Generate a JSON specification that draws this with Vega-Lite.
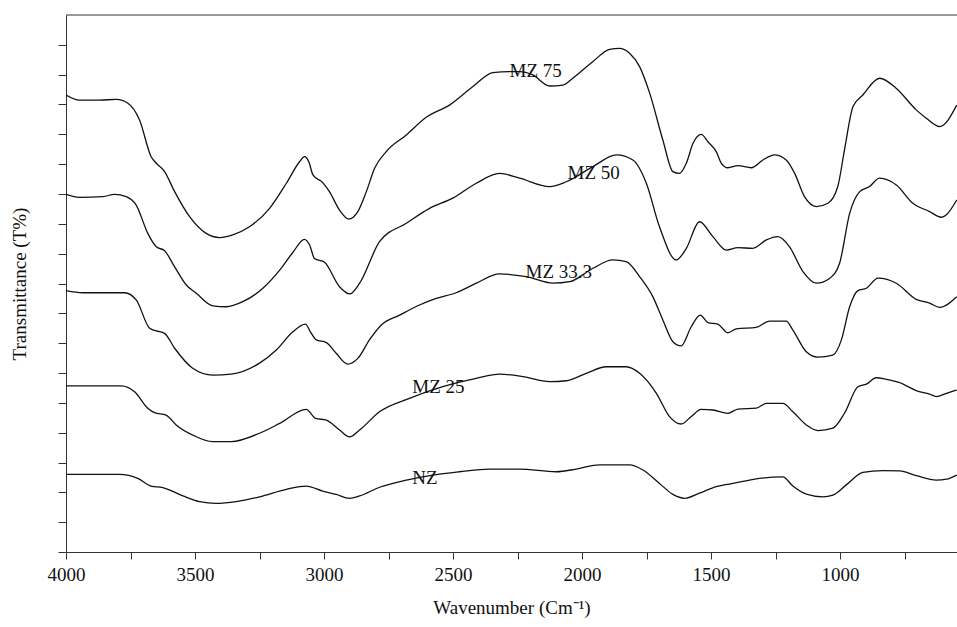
{
  "$schema": "https://vega.github.io/schema/vega-lite/v6.json",
  "width": 891,
  "height": 537,
  "autosize": {"type": "none"},
  "padding": {"left": 66, "top": 15, "right": 0, "bottom": 75},
  "background": "white",
  "config": {
    "view": {"stroke": null},
    "font": "Liberation Serif",
    "axis": {"grid": false, "domainColor": "#333333", "tickColor": "#333333", "labelColor": "#111111", "titleColor": "#111111", "labelFont": "Liberation Serif", "titleFont": "Liberation Serif", "titleFontWeight": "normal", "labelFontSize": 19, "titleFontSize": 19}
  },
  "datasets": {
    "spectra": [
      {"s":"MZ 75","w":4000,"t":15.32},{"s":"MZ 75","w":3948,"t":15.15},{"s":"MZ 75","w":3870,"t":15.15},{"s":"MZ 75","w":3805,"t":15.17},{"s":"MZ 75","w":3760,"t":15.04},{"s":"MZ 75","w":3715,"t":14.48},{"s":"MZ 75","w":3670,"t":13.25},{"s":"MZ 75","w":3650,"t":13.03},{"s":"MZ 75","w":3618,"t":12.75},{"s":"MZ 75","w":3579,"t":12.08},{"s":"MZ 75","w":3521,"t":11.24},{"s":"MZ 75","w":3457,"t":10.68},{"s":"MZ 75","w":3405,"t":10.54},{"s":"MZ 75","w":3354,"t":10.63},{"s":"MZ 75","w":3289,"t":10.90},{"s":"MZ 75","w":3211,"t":11.52},{"s":"MZ 75","w":3146,"t":12.36},{"s":"MZ 75","w":3095,"t":13.08},{"s":"MZ 75","w":3076,"t":13.25},{"s":"MZ 75","w":3059,"t":13.08},{"s":"MZ 75","w":3043,"t":12.64},{"s":"MZ 75","w":3005,"t":12.38},{"s":"MZ 75","w":2979,"t":12.08},{"s":"MZ 75","w":2940,"t":11.46},{"s":"MZ 75","w":2904,"t":11.16},{"s":"MZ 75","w":2869,"t":11.41},{"s":"MZ 75","w":2836,"t":12.08},{"s":"MZ 75","w":2804,"t":12.86},{"s":"MZ 75","w":2759,"t":13.42},{"s":"MZ 75","w":2681,"t":13.98},{"s":"MZ 75","w":2604,"t":14.57},{"s":"MZ 75","w":2514,"t":14.98},{"s":"MZ 75","w":2423,"t":15.60},{"s":"MZ 75","w":2346,"t":16.07},{"s":"MZ 75","w":2281,"t":16.10},{"s":"MZ 75","w":2242,"t":16.10},{"s":"MZ 75","w":2191,"t":15.99},{"s":"MZ 75","w":2126,"t":15.62},{"s":"MZ 75","w":2074,"t":15.65},{"s":"MZ 75","w":2036,"t":15.88},{"s":"MZ 75","w":1958,"t":16.44},{"s":"MZ 75","w":1893,"t":16.85},{"s":"MZ 75","w":1855,"t":16.88},{"s":"MZ 75","w":1816,"t":16.72},{"s":"MZ 75","w":1777,"t":16.27},{"s":"MZ 75","w":1738,"t":15.38},{"s":"MZ 75","w":1687,"t":13.81},{"s":"MZ 75","w":1648,"t":12.75},{"s":"MZ 75","w":1622,"t":12.69},{"s":"MZ 75","w":1596,"t":13.03},{"s":"MZ 75","w":1570,"t":13.70},{"s":"MZ 75","w":1538,"t":14.00},{"s":"MZ 75","w":1512,"t":13.75},{"s":"MZ 75","w":1480,"t":13.42},{"s":"MZ 75","w":1460,"t":13.03},{"s":"MZ 75","w":1435,"t":12.88},{"s":"MZ 75","w":1396,"t":12.95},{"s":"MZ 75","w":1344,"t":12.88},{"s":"MZ 75","w":1299,"t":13.14},{"s":"MZ 75","w":1254,"t":13.31},{"s":"MZ 75","w":1209,"t":13.14},{"s":"MZ 75","w":1176,"t":12.69},{"s":"MZ 75","w":1138,"t":11.91},{"s":"MZ 75","w":1092,"t":11.58},{"s":"MZ 75","w":1047,"t":11.69},{"s":"MZ 75","w":1009,"t":12.25},{"s":"MZ 75","w":983,"t":13.48},{"s":"MZ 75","w":950,"t":14.93},{"s":"MZ 75","w":912,"t":15.32},{"s":"MZ 75","w":847,"t":15.88},{"s":"MZ 75","w":782,"t":15.54},{"s":"MZ 75","w":705,"t":14.82},{"s":"MZ 75","w":666,"t":14.54},{"s":"MZ 75","w":614,"t":14.26},{"s":"MZ 75","w":548,"t":14.98},
      {"s":"MZ 50","w":4000,"t":11.99},{"s":"MZ 50","w":3948,"t":11.89},{"s":"MZ 50","w":3857,"t":11.91},{"s":"MZ 50","w":3812,"t":11.99},{"s":"MZ 50","w":3767,"t":11.91},{"s":"MZ 50","w":3728,"t":11.63},{"s":"MZ 50","w":3683,"t":10.68},{"s":"MZ 50","w":3650,"t":10.23},{"s":"MZ 50","w":3618,"t":10.10},{"s":"MZ 50","w":3579,"t":9.56},{"s":"MZ 50","w":3534,"t":8.95},{"s":"MZ 50","w":3495,"t":8.67},{"s":"MZ 50","w":3431,"t":8.25},{"s":"MZ 50","w":3379,"t":8.22},{"s":"MZ 50","w":3315,"t":8.39},{"s":"MZ 50","w":3237,"t":8.84},{"s":"MZ 50","w":3172,"t":9.45},{"s":"MZ 50","w":3121,"t":10.04},{"s":"MZ 50","w":3076,"t":10.48},{"s":"MZ 50","w":3056,"t":10.29},{"s":"MZ 50","w":3037,"t":9.84},{"s":"MZ 50","w":2998,"t":9.71},{"s":"MZ 50","w":2940,"t":8.89},{"s":"MZ 50","w":2901,"t":8.65},{"s":"MZ 50","w":2862,"t":9.01},{"s":"MZ 50","w":2785,"t":10.40},{"s":"MZ 50","w":2681,"t":11.02},{"s":"MZ 50","w":2591,"t":11.52},{"s":"MZ 50","w":2501,"t":11.86},{"s":"MZ 50","w":2410,"t":12.36},{"s":"MZ 50","w":2320,"t":12.69},{"s":"MZ 50","w":2242,"t":12.53},{"s":"MZ 50","w":2126,"t":12.25},{"s":"MZ 50","w":2061,"t":12.41},{"s":"MZ 50","w":1958,"t":12.92},{"s":"MZ 50","w":1867,"t":13.31},{"s":"MZ 50","w":1803,"t":13.14},{"s":"MZ 50","w":1751,"t":12.36},{"s":"MZ 50","w":1700,"t":10.90},{"s":"MZ 50","w":1635,"t":9.79},{"s":"MZ 50","w":1596,"t":10.18},{"s":"MZ 50","w":1545,"t":11.07},{"s":"MZ 50","w":1493,"t":10.57},{"s":"MZ 50","w":1441,"t":10.12},{"s":"MZ 50","w":1396,"t":10.20},{"s":"MZ 50","w":1338,"t":10.18},{"s":"MZ 50","w":1286,"t":10.46},{"s":"MZ 50","w":1241,"t":10.57},{"s":"MZ 50","w":1196,"t":10.23},{"s":"MZ 50","w":1144,"t":9.40},{"s":"MZ 50","w":1092,"t":9.01},{"s":"MZ 50","w":1041,"t":9.17},{"s":"MZ 50","w":1002,"t":9.68},{"s":"MZ 50","w":963,"t":11.35},{"s":"MZ 50","w":924,"t":12.08},{"s":"MZ 50","w":886,"t":12.25},{"s":"MZ 50","w":847,"t":12.53},{"s":"MZ 50","w":782,"t":12.30},{"s":"MZ 50","w":718,"t":11.69},{"s":"MZ 50","w":653,"t":11.41},{"s":"MZ 50","w":608,"t":11.22},{"s":"MZ 50","w":548,"t":11.80},
      {"s":"MZ 33.3","w":4000,"t":8.76},{"s":"MZ 33.3","w":3935,"t":8.69},{"s":"MZ 33.3","w":3773,"t":8.69},{"s":"MZ 33.3","w":3728,"t":8.45},{"s":"MZ 33.3","w":3676,"t":7.50},{"s":"MZ 33.3","w":3650,"t":7.41},{"s":"MZ 33.3","w":3618,"t":7.33},{"s":"MZ 33.3","w":3579,"t":6.83},{"s":"MZ 33.3","w":3509,"t":6.16},{"s":"MZ 33.3","w":3431,"t":5.93},{"s":"MZ 33.3","w":3360,"t":5.96},{"s":"MZ 33.3","w":3250,"t":6.33},{"s":"MZ 33.3","w":3185,"t":6.77},{"s":"MZ 33.3","w":3121,"t":7.38},{"s":"MZ 33.3","w":3072,"t":7.64},{"s":"MZ 33.3","w":3053,"t":7.38},{"s":"MZ 33.3","w":3030,"t":7.11},{"s":"MZ 33.3","w":2991,"t":7.02},{"s":"MZ 33.3","w":2953,"t":6.66},{"s":"MZ 33.3","w":2908,"t":6.30},{"s":"MZ 33.3","w":2869,"t":6.49},{"s":"MZ 33.3","w":2824,"t":7.11},{"s":"MZ 33.3","w":2778,"t":7.61},{"s":"MZ 33.3","w":2707,"t":7.94},{"s":"MZ 33.3","w":2630,"t":8.28},{"s":"MZ 33.3","w":2565,"t":8.50},{"s":"MZ 33.3","w":2488,"t":8.69},{"s":"MZ 33.3","w":2410,"t":9.01},{"s":"MZ 33.3","w":2320,"t":9.32},{"s":"MZ 33.3","w":2216,"t":9.23},{"s":"MZ 33.3","w":2113,"t":9.01},{"s":"MZ 33.3","w":2048,"t":9.06},{"s":"MZ 33.3","w":1958,"t":9.51},{"s":"MZ 33.3","w":1881,"t":9.79},{"s":"MZ 33.3","w":1829,"t":9.73},{"s":"MZ 33.3","w":1777,"t":9.23},{"s":"MZ 33.3","w":1726,"t":8.56},{"s":"MZ 33.3","w":1687,"t":7.78},{"s":"MZ 33.3","w":1648,"t":7.05},{"s":"MZ 33.3","w":1616,"t":6.91},{"s":"MZ 33.3","w":1577,"t":7.55},{"s":"MZ 33.3","w":1542,"t":7.94},{"s":"MZ 33.3","w":1512,"t":7.69},{"s":"MZ 33.3","w":1474,"t":7.64},{"s":"MZ 33.3","w":1435,"t":7.35},{"s":"MZ 33.3","w":1402,"t":7.48},{"s":"MZ 33.3","w":1325,"t":7.53},{"s":"MZ 33.3","w":1273,"t":7.74},{"s":"MZ 33.3","w":1209,"t":7.74},{"s":"MZ 33.3","w":1183,"t":7.44},{"s":"MZ 33.3","w":1131,"t":6.71},{"s":"MZ 33.3","w":1086,"t":6.53},{"s":"MZ 33.3","w":1028,"t":6.60},{"s":"MZ 33.3","w":995,"t":7.11},{"s":"MZ 33.3","w":963,"t":8.22},{"s":"MZ 33.3","w":931,"t":8.76},{"s":"MZ 33.3","w":898,"t":8.84},{"s":"MZ 33.3","w":853,"t":9.18},{"s":"MZ 33.3","w":782,"t":9.01},{"s":"MZ 33.3","w":705,"t":8.47},{"s":"MZ 33.3","w":653,"t":8.34},{"s":"MZ 33.3","w":614,"t":8.20},{"s":"MZ 33.3","w":548,"t":8.56},
      {"s":"MZ 25","w":4000,"t":5.57},{"s":"MZ 25","w":3786,"t":5.57},{"s":"MZ 25","w":3734,"t":5.37},{"s":"MZ 25","w":3683,"t":4.82},{"s":"MZ 25","w":3657,"t":4.67},{"s":"MZ 25","w":3612,"t":4.59},{"s":"MZ 25","w":3573,"t":4.26},{"s":"MZ 25","w":3509,"t":3.92},{"s":"MZ 25","w":3431,"t":3.70},{"s":"MZ 25","w":3360,"t":3.70},{"s":"MZ 25","w":3250,"t":3.98},{"s":"MZ 25","w":3172,"t":4.31},{"s":"MZ 25","w":3069,"t":4.78},{"s":"MZ 25","w":3033,"t":4.48},{"s":"MZ 25","w":2991,"t":4.42},{"s":"MZ 25","w":2940,"t":4.09},{"s":"MZ 25","w":2901,"t":3.86},{"s":"MZ 25","w":2862,"t":4.09},{"s":"MZ 25","w":2785,"t":4.70},{"s":"MZ 25","w":2669,"t":5.15},{"s":"MZ 25","w":2540,"t":5.54},{"s":"MZ 25","w":2410,"t":5.82},{"s":"MZ 25","w":2320,"t":5.96},{"s":"MZ 25","w":2230,"t":5.88},{"s":"MZ 25","w":2126,"t":5.71},{"s":"MZ 25","w":2061,"t":5.74},{"s":"MZ 25","w":1984,"t":5.99},{"s":"MZ 25","w":1906,"t":6.21},{"s":"MZ 25","w":1829,"t":6.21},{"s":"MZ 25","w":1777,"t":5.99},{"s":"MZ 25","w":1712,"t":5.32},{"s":"MZ 25","w":1661,"t":4.54},{"s":"MZ 25","w":1616,"t":4.29},{"s":"MZ 25","w":1577,"t":4.54},{"s":"MZ 25","w":1538,"t":4.78},{"s":"MZ 25","w":1493,"t":4.76},{"s":"MZ 25","w":1435,"t":4.65},{"s":"MZ 25","w":1396,"t":4.79},{"s":"MZ 25","w":1325,"t":4.82},{"s":"MZ 25","w":1286,"t":4.98},{"s":"MZ 25","w":1222,"t":4.98},{"s":"MZ 25","w":1183,"t":4.70},{"s":"MZ 25","w":1131,"t":4.26},{"s":"MZ 25","w":1086,"t":4.07},{"s":"MZ 25","w":1028,"t":4.15},{"s":"MZ 25","w":983,"t":4.65},{"s":"MZ 25","w":931,"t":5.54},{"s":"MZ 25","w":898,"t":5.63},{"s":"MZ 25","w":860,"t":5.84},{"s":"MZ 25","w":821,"t":5.79},{"s":"MZ 25","w":769,"t":5.68},{"s":"MZ 25","w":705,"t":5.41},{"s":"MZ 25","w":653,"t":5.29},{"s":"MZ 25","w":627,"t":5.21},{"s":"MZ 25","w":588,"t":5.32},{"s":"MZ 25","w":548,"t":5.43},
      {"s":"NZ","w":4000,"t":2.60},{"s":"NZ","w":3793,"t":2.60},{"s":"NZ","w":3722,"t":2.47},{"s":"NZ","w":3670,"t":2.21},{"s":"NZ","w":3625,"t":2.16},{"s":"NZ","w":3547,"t":1.88},{"s":"NZ","w":3483,"t":1.69},{"s":"NZ","w":3418,"t":1.63},{"s":"NZ","w":3340,"t":1.69},{"s":"NZ","w":3250,"t":1.85},{"s":"NZ","w":3146,"t":2.10},{"s":"NZ","w":3069,"t":2.21},{"s":"NZ","w":3005,"t":2.04},{"s":"NZ","w":2953,"t":1.93},{"s":"NZ","w":2901,"t":1.80},{"s":"NZ","w":2862,"t":1.88},{"s":"NZ","w":2785,"t":2.17},{"s":"NZ","w":2681,"t":2.41},{"s":"NZ","w":2578,"t":2.58},{"s":"NZ","w":2475,"t":2.69},{"s":"NZ","w":2359,"t":2.78},{"s":"NZ","w":2281,"t":2.78},{"s":"NZ","w":2242,"t":2.78},{"s":"NZ","w":2100,"t":2.69},{"s":"NZ","w":2023,"t":2.78},{"s":"NZ","w":1932,"t":2.92},{"s":"NZ","w":1816,"t":2.92},{"s":"NZ","w":1764,"t":2.75},{"s":"NZ","w":1700,"t":2.30},{"s":"NZ","w":1648,"t":1.93},{"s":"NZ","w":1603,"t":1.80},{"s":"NZ","w":1545,"t":1.97},{"s":"NZ","w":1480,"t":2.19},{"s":"NZ","w":1415,"t":2.30},{"s":"NZ","w":1312,"t":2.47},{"s":"NZ","w":1222,"t":2.52},{"s":"NZ","w":1183,"t":2.21},{"s":"NZ","w":1131,"t":1.94},{"s":"NZ","w":1067,"t":1.85},{"s":"NZ","w":1028,"t":1.91},{"s":"NZ","w":976,"t":2.25},{"s":"NZ","w":912,"t":2.67},{"s":"NZ","w":834,"t":2.73},{"s":"NZ","w":769,"t":2.72},{"s":"NZ","w":705,"t":2.56},{"s":"NZ","w":627,"t":2.41},{"s":"NZ","w":588,"t":2.44},{"s":"NZ","w":548,"t":2.58}
    ],
    "labels": [
      {"label":"MZ 75","w":2281,"t":16.12},
      {"label":"MZ 50","w":2056,"t":12.71},
      {"label":"MZ 33.3","w":2219,"t":9.40},
      {"label":"MZ 25","w":2658,"t":5.54},
      {"label":"NZ","w":2658,"t":2.47}
    ],
    "frame": [{"t":18}]
  },
  "layer": [
    {
      "data": {"name": "spectra"},
      "mark": {"type": "line", "interpolate": "monotone", "color": "#111111", "strokeWidth": 1.3, "clip": true},
      "encoding": {
        "x": {
          "field": "w", "type": "quantitative",
          "scale": {"domain": [547, 4000], "reverse": true, "nice": false, "zero": false},
          "axis": {
            "title": "Wavenumber (Cm⁻¹)",
            "values": [4000, 3750, 3500, 3250, 3000, 2750, 2500, 2250, 2000, 1750, 1500, 1250, 1000, 750],
            "labelExpr": "datum.value % 500 === 0 ? format(datum.value, 'd') : ''",
            "labelFont": "Liberation Serif", "titleFont": "Liberation Serif", "labelFontSize": 19, "titleFontSize": 19,
            "tickSize": 7, "labelPadding": 6, "titlePadding": 14, "labelFlush": false, "labelOverlap": false
          }
        },
        "y": {
          "field": "t", "type": "quantitative",
          "scale": {"domain": [0, 18], "nice": false, "zero": false},
          "axis": {
            "title": "Transmittance (T%)",
            "values": [0,1,2,3,4,5,6,7,8,9,10,11,12,13,14,15,16,17],
            "tickCount": 18, "labelOverlap": false,
            "labelExpr": "''",
            "titleFont": "Liberation Serif", "titleFontSize": 19,
            "tickSize": 8, "labelPadding": 0, "titlePadding": 28
          }
        },
        "detail": {"field": "s", "type": "nominal"}
      }
    },
    {
      "data": {"name": "frame"},
      "mark": {"type": "rule", "color": "#333333", "strokeWidth": 1},
      "encoding": {"y": {"field": "t", "type": "quantitative"}}
    },
    {
      "data": {"name": "labels"},
      "mark": {"type": "text", "align": "left", "baseline": "middle", "font": "Liberation Serif", "fontSize": 19, "color": "#111111"},
      "encoding": {
        "x": {"field": "w", "type": "quantitative"},
        "y": {"field": "t", "type": "quantitative"},
        "text": {"field": "label", "type": "nominal"}
      }
    }
  ]
}
